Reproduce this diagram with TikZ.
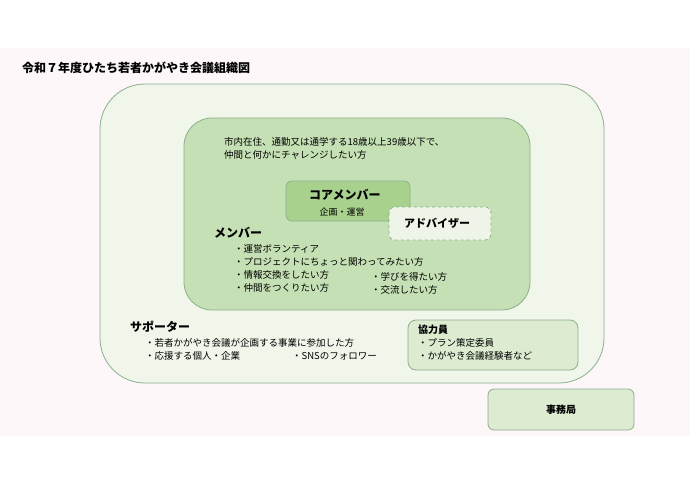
\documentclass[tikz,border=0pt]{standalone}
\usepackage{fontspec}
\setmainfont{Noto Sans CJK JP}
\begin{document}
\begin{tikzpicture}[x=1pt,y=-1pt,
  box/.style={draw=green!30!black!45, line width=0.8pt},
  txt/.style={anchor=north west, inner sep=0pt, font=\fontsize{9.5}{13}\selectfont, align=left},
  head/.style={anchor=west, inner sep=0pt, font=\bfseries\fontsize{12}{14}\selectfont}]
\useasboundingbox (0,0) rectangle (690,488);
\fill[white] (0,0) rectangle (690,488);
\fill[fill={rgb,255:red,253;green,247;blue,250}] (0,48) rectangle (690,436);
\node[head] (title) at (22,68) {令和７年度ひたち若者かがやき会議組織図};
\draw[box, fill={rgb,255:red,241;green,246;blue,235}, rounded corners=45] (100,84) rectangle (604,383);
\draw[box, fill={rgb,255:red,197;green,224;blue,180}, rounded corners=28] (184,118) rectangle (530,310);
\node[txt] (req) at (224,137) {市内在住、通勤又は通学する18歳以上39歳以下で、\\仲間と何かにチャレンジしたい方};
\draw[box, fill={rgb,255:red,169;green,209;blue,142}, rounded corners=6] (286,181) rectangle (410,221);
\node[head] (core) at (309,195) {コアメンバー};
\node[txt, anchor=center, font=\fontsize{9}{11}\selectfont] (plan) at (342,212) {企画・運営};
\draw[box, dashed, fill={rgb,255:red,238;green,245;blue,232}, rounded corners=6] (389,207) rectangle (491,240);
\node[head, font=\bfseries\fontsize{11}{13}\selectfont] (adv) at (404,223) {アドバイザー};
\node[head] (mem) at (214,233) {メンバー};
\node[txt] (m1) at (234,244) {・運営ボランティア\\・プロジェクトにちょっと関わってみたい方\\・情報交換をしたい方\\・仲間をつくりたい方};
\node[txt] (m2) at (371,272) {・学びを得たい方\\・交流したい方};
\node[head] (sup) at (130,327) {サポーター};
\node[txt] (s1) at (145,338) {・若者かがやき会議が企画する事業に参加した方\\・応援する個人・企業};
\node[txt] (s2) at (292,352) {・SNSのフォロワー};
\draw[box, fill={rgb,255:red,221;green,235;blue,209}, rounded corners=8] (408,320) rectangle (578,370);
\node[head, font=\bfseries\fontsize{10}{12}\selectfont] (coop) at (418,330) {協力員};
\node[txt] (c1) at (418,338) {・プラン策定委員\\・かがやき会議経験者など};
\draw[box, fill={rgb,255:red,221;green,235;blue,209}, rounded corners=6] (488,389) rectangle (634,430);
\node[head, font=\bfseries\fontsize{10}{12}\selectfont, anchor=center] (office) at (561,410) {事務局};
\end{tikzpicture}
\end{document}
